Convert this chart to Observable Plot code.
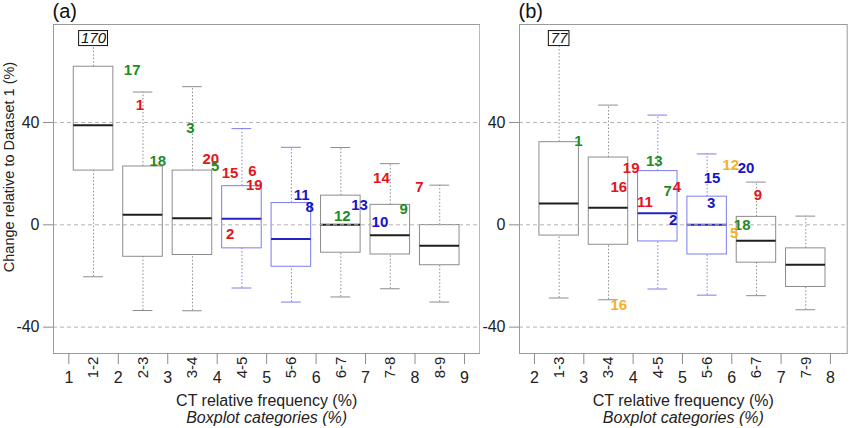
<!DOCTYPE html>
<html><head><meta charset="utf-8">
<script src="https://cdn.jsdelivr.net/npm/d3@7"></script>
<script src="https://cdn.jsdelivr.net/npm/@observablehq/plot@0.6"></script>
<style>
body{margin:0;background:#fff;}
#wrap{position:relative;width:850px;height:428px;overflow:hidden;background:#fff;}
#wrap svg{position:absolute;top:0;}
</style></head><body><div id="wrap"></div>
<script>
// ---------- data: panel (a) ----------
const leftCats = ["1-2","2-3","3-4","4-5","5-6","6-7","7-8","8-9"];
const leftLow  = [-20.3, -33.5, -33.6, -24.7, -30.2, -28.2, -25.0, -30.2];
const leftQ1   = [21.2, -12.5, -11.8, -9.2, -16.4, -10.9, -11.6, -15.8];
const leftMed  = [38.9, 3.9, 2.6, 2.35, -5.5, 0.0, -4.1, -8.2];
const leftQ3   = [61.8, 22.8, 21.2, 15.1, 8.5, 11.4, 7.8, -0.1];
const leftHigh = [170, 51.9, 54.0, 37.6, 30.3, 30.2, 23.9, 15.5];
const leftTicks = [1,2,3,4,5,6,7,8,9];
const leftLabText  = ["17","1","18","3","20","5","15","6","19","2","11","8","12","13","10","9","14","7"];
const leftLabX     = [2.28,2.44,2.80,3.46,3.87,3.96,4.26,4.71,4.75,4.26,5.71,5.87,6.53,6.88,7.29,7.77,7.32,8.09];
const leftLabY     = [60.3,46.9,24.9,37.9,25.6,22.8,20.2,20.8,15.3,-3.5,11.7,7.0,3.4,7.5,1.0,6.0,18.2,14.7];
const leftLabGroup = ["green","red","green","green","red","green","red","red","red","red","blue","blue","green","blue","blue","green","red","red"];

// ---------- data: panel (b) ----------
const rightCats = ["1-3","3-4","4-5","5-6","6-7","7-9"];
const rightLow  = [-28.6, -29.3, -25.1, -27.5, -27.7, -33.2];
const rightQ1   = [-4.2, -7.8, -6.5, -11.6, -14.8, -24.3];
const rightMed  = [8.35, 6.7, 4.55, 0.0, -6.2, -15.6];
const rightQ3   = [32.3, 26.3, 21.0, 11.0, 3.1, -9.2];
const rightHigh = [77, 46.8, 42.9, 27.7, 16.7, 3.4];
const rightTicks = [2,3,4,5,6,7,8];
const rightLabText  = ["1","19","16","13","7","4","11","2","15","3","12","20","9","18","5","16"];
const rightLabX     = [2.89,3.96,3.71,4.43,4.70,4.89,4.24,4.81,5.60,5.58,5.98,6.29,6.53,6.21,6.05,3.71];
const rightLabY     = [32.7,22.3,14.7,24.9,13.0,14.7,8.8,1.7,18.2,8.4,23.4,22.0,11.6,0.0,-3.2,-31.3];
const rightLabGroup = ["green","red","red","green","green","red","red","blue","blue","blue","orange","blue","red","green","orange","orange"];

const blueCats = ["4-5","5-6"];
const yTicks = [-40, 0, 40];

// ---------- styles ----------
const FONT = "'Liberation Sans', Arial, Helvetica, sans-serif";
const groupColor = {green:"#1e8c1e", red:"#e5141c", blue:"#1414c8", orange:"#f6b02a"};
const GRAY = "#8c8c8c", LBLUE = "#7c7cf0";
const H = 428, MT = 24, MB = 75;
const Y_DOMAIN = [-50.3, 78.3];
const OFF = 72.8; // where an off-scale maximum is printed

function panel({cats, low, q1, med, q3, high, ticks, start, xDomain, width, ml, mr, tag,
                labText, labX, labY, labGroup, yLabel}) {
  const rows = cats.map((c, i) => ({cat: c, pos: i + start, lo: low[i], q1: q1[i], med: med[i],
                                    q3: q3[i], hi: high[i], blue: blueCats.includes(c)}));
  const labs = labText.map((t, i) => ({t, x: labX[i], y: labY[i], c: groupColor[labGroup[i]]}));
  const pxX = (width - ml - mr) / (xDomain[1] - xDomain[0]);
  const pxY = (H - MT - MB) / (Y_DOMAIN[1] - Y_DOMAIN[0]);
  const hw = 0.4, cw = 0.2;
  const st = d => d.blue ? LBLUE : GRAY;
  const over = rows.filter(d => d.hi > OFF);
  const under = rows.filter(d => d.hi <= OFF);
  const boxHalfY = 7.5 / pxY;
  const marks = [
    Plot.ruleX(rows, {x: "pos", y1: "q3", y2: d => d.hi > OFF ? OFF - boxHalfY : d.hi, stroke: st, strokeDasharray: "1.5,2"}),
    Plot.ruleX(rows, {x: "pos", y1: "lo", y2: "q1", stroke: st, strokeDasharray: "1.5,2"}),
    Plot.ruleY(under, {y: "hi", x1: d => d.pos - cw, x2: d => d.pos + cw, stroke: st}),
    Plot.ruleY(rows, {y: "lo", x1: d => d.pos - cw, x2: d => d.pos + cw, stroke: st}),
    Plot.rect(rows, {x1: d => d.pos - hw, x2: d => d.pos + hw, y1: "q1", y2: "q3", stroke: st, fill: "none"}),
    Plot.ruleY(rows, {y: "med", x1: d => d.pos - hw, x2: d => d.pos + hw, stroke: d => d.blue ? "#2323c4" : "#1e1e1e", strokeWidth: 2}),
    Plot.ruleY(yTicks, {stroke: "#b4b4b4", strokeDasharray: "4,3"}),
    Plot.frame({stroke: "#9a9a9a"}),
    // off-scale maximum
    Plot.rect(over, {x1: d => d.pos - (String(d.hi).length * 8.3 + 4) / 2 / pxX,
                     x2: d => d.pos + (String(d.hi).length * 8.3 + 4) / 2 / pxX,
                     y1: () => OFF - boxHalfY, y2: () => OFF + boxHalfY, stroke: "#111", fill: "white"}),
    Plot.text(over, {x: "pos", y: () => OFF, text: d => String(d.hi), fontStyle: "italic", fontSize: 15, fill: "#111", lineAnchor: "middle"}),
    // numbered labels
    Plot.text(labs, {x: "x", y: "y", text: "t", fill: "c", fontWeight: "bold", fontSize: 15, lineAnchor: "middle"}),
    // axes
    Plot.axisY(yTicks, {tickSize: 10, tickPadding: 4, fontSize: 16, stroke: GRAY, fill: "#222", tickFormat: d => String(d), label: null}),
    Plot.axisX(ticks, {tickSize: 11, tickPadding: 7, fontSize: 16, stroke: GRAY, fill: "#222", tickFormat: d => String(d), label: null}),
    Plot.text(rows, {x: "pos", text: "cat", frameAnchor: "bottom", dy: 14, rotate: -90, fontSize: 15, fill: "#222", textAnchor: "middle", lineAnchor: "middle"}),
    Plot.text(["CT relative frequency (%)"], {frameAnchor: "bottom", dy: 47, fontSize: 16, fill: "#222", textAnchor: "middle", lineAnchor: "middle"}),
    Plot.text(["Boxplot categories (%)"], {frameAnchor: "bottom", dy: 64, fontSize: 16, fontStyle: "italic", fill: "#222", textAnchor: "middle", lineAnchor: "middle"}),
    Plot.text([tag], {frameAnchor: "top-left", textAnchor: "start", dx: -1, dy: -13, fontSize: 20, fill: "#111", lineAnchor: "middle"})
  ];
  if (yLabel) marks.push(Plot.text([yLabel], {frameAnchor: "left", dx: -44, dy: -22, rotate: -90, fontSize: 14.5, fill: "#222", textAnchor: "middle", lineAnchor: "middle"}));
  return Plot.plot({
    width, height: H, marginLeft: ml, marginRight: mr, marginTop: MT, marginBottom: MB,
    style: {fontFamily: FONT, background: "white", overflow: "visible"},
    x: {domain: xDomain},
    y: {domain: Y_DOMAIN},
    color: {type: "identity"},
    marks
  });
}

const wrap = document.getElementById("wrap");
const a = panel({cats: leftCats, low: leftLow, q1: leftQ1, med: leftMed, q3: leftQ3, high: leftHigh,
  ticks: leftTicks, start: 1.5, xDomain: [0.69, 9.31], width: 480, ml: 53, mr: 0.7, tag: "(a)",
  labText: leftLabText, labX: leftLabX, labY: leftLabY, labGroup: leftLabGroup,
  yLabel: "Change relative to Dataset 1 (%)"});
a.style.left = "0px";
const b = panel({cats: rightCats, low: rightLow, q1: rightQ1, med: rightMed, q3: rightQ3, high: rightHigh,
  ticks: rightTicks, start: 2.5, xDomain: [1.696, 8.34], width: 370, ml: 39, mr: 3.3, tag: "(b)",
  labText: rightLabText, labX: rightLabX, labY: rightLabY, labGroup: rightLabGroup, yLabel: null});
b.style.left = "480px";
wrap.appendChild(a);
wrap.appendChild(b);
</script>
</body></html>
